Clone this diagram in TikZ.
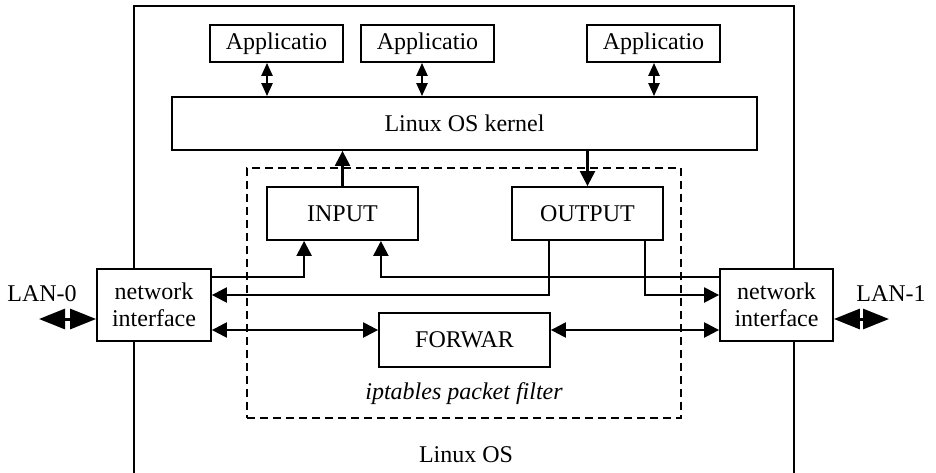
\documentclass[tikz,border=0pt]{standalone}
\usepackage{fontspec}
\setmainfont{Liberation Serif}
\usetikzlibrary{arrows.meta}
\begin{document}
\begin{tikzpicture}[x=1pt,y=-1pt,
  font=\fontsize{24}{27}\selectfont,
  box/.style={draw, line width=1.8pt, fill=white, inner sep=0pt, align=center},
  conn/.style={line width=2.3pt},
  tipend/.style={-{Triangle[length=15pt,width=15pt]}},
  tipboth/.style={{Triangle[length=15pt,width=15pt]}-{Triangle[length=15pt,width=15pt]}},
  appdbl/.style={line width=2.3pt,{Triangle[length=13pt,width=11pt]}-{Triangle[length=13pt,width=11pt]}},
  landbl/.style={line width=3pt,{Triangle[length=26pt,width=20pt]}-{Triangle[length=26pt,width=20pt]}},
  plain/.style={inner sep=0pt}]
\clip (0,0) rectangle (936,472);

% outer Linux OS frame
\node[box, fill=none, minimum width=660pt, minimum height=484pt] (os) at (464,248) {};
\node[plain] (oslabel) at (466,455) {Linux OS};

% applications and kernel
\node[box, minimum width=133pt, minimum height=37pt] (app1) at (276.5,43.5) {Applicatio};
\node[box, minimum width=133pt, minimum height=37pt] (app2) at (427.5,43.5) {Applicatio};
\node[box, minimum width=133pt, minimum height=37pt] (app3) at (653.5,43.5) {Applicatio};
\node[box, minimum width=585pt, minimum height=53pt] (kernel) at (464.5,123.5) {Linux OS kernel};

% iptables packet filter
\node[draw, line width=1.8pt, dash pattern=on 8pt off 5pt, minimum width=434pt, minimum height=250pt, inner sep=0pt] (filter) at (464,293) {};
\node[plain] (filterlabel) at (464,394) {\itshape iptables packet filter};

\node[box, minimum width=151pt, minimum height=53pt] (input) at (342.5,213.5) {INPUT};
\node[box, minimum width=151pt, minimum height=53pt] (output) at (587.5,213.5) {OUTPUT};
\node[box, minimum width=171pt, minimum height=54pt] (forwar) at (464.5,340) {FORWAR};

% network interfaces
\node[box, minimum width=114pt, minimum height=72pt] (nil) at (154,305) {network\\interface};
\node[box, minimum width=113pt, minimum height=72pt] (nir) at (776.5,305) {network\\interface};

% LAN labels and arrows
\node[plain] (lan0) at (42,294) {LAN-0};
\node[plain] (lan1) at (891,294) {LAN-1};
\coordinate (lan0end) at (39,319);
\coordinate (lan1end) at (889,319);
\draw[landbl] (lan0end) -- (lan0end -| nil.west);
\draw[landbl] (nir.east |- lan1end) -- (lan1end);

% application <-> kernel
\draw[appdbl] ([xshift=-9.5pt]app1.south) -- ([xshift=-9.5pt]app1.south |- kernel.north);
\draw[appdbl] ([xshift=-5.5pt]app2.south) -- ([xshift=-5.5pt]app2.south |- kernel.north);
\draw[appdbl] ([xshift=0.5pt]app3.south) -- ([xshift=0.5pt]app3.south |- kernel.north);

% kernel <-> chains
\draw[conn, tipend] (input.north) -- (input.north |- kernel.south);
\draw[conn, tipend] (output.north |- kernel.south) -- (output.north);

% output -> interfaces
\draw[conn, tipend] ([xshift=38pt]output.south west) |- ([yshift=10pt]nil.east);
\draw[conn, tipend] ([xshift=-19pt]output.south east) |- ([yshift=10pt]nir.west);

% interfaces -> input
\draw[conn, tipend] ([yshift=28pt]nil.east) -| ([xshift=38pt]input.south west);
\draw[conn, tipend] ([yshift=28pt]nir.west) -| ([xshift=-38pt]input.south east);

% forward
\coordinate (fwdl) at ([yshift=10pt]forwar.west);
\coordinate (fwdr) at ([yshift=10pt]forwar.east);
\draw[conn, tipboth] (fwdl -| nil.east) -- (fwdl);
\draw[conn, tipboth] (fwdr) -- (fwdr -| nir.west);
\end{tikzpicture}
\end{document}
